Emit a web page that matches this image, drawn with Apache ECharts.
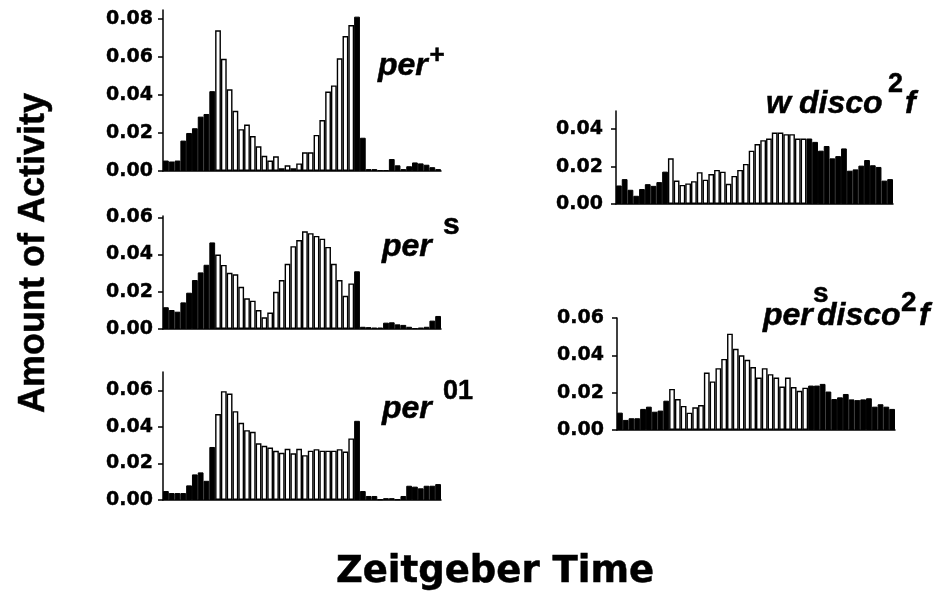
<!DOCTYPE html>
<html lang="en">
<head>
  <meta charset="UTF-8">
  <title>Amount of Activity</title>
  <script src="https://cdn.jsdelivr.net/npm/echarts@6/dist/echarts.min.js"></script>
  <style>
    html, body { margin: 0; padding: 0; background: #fff; }
  </style>
</head>
<body>
  <div id="main" style="width: 948px;height:594px;"></div>
  <script type="text/javascript">
    // 48 half-hour bins; lights on from bin 9 to bin 32 (white bars)
    var lightStart = 9;
    var lightEnd = 33;

    var perPlus = [0.0055, 0.005, 0.0055, 0.016, 0.020, 0.0225, 0.0286, 0.030, 0.042,
      0.074, 0.059, 0.043, 0.0317, 0.022, 0.0244, 0.0184, 0.013, 0.008, 0.0055, 0.0077, 0.0015,
      0.003, 0.0015, 0.004, 0.0098, 0.0098, 0.019, 0.0268, 0.0418, 0.045, 0.0593, 0.071, 0.0768,
      0.0812, 0.0175, 0.001, 0.001, 0.0005, 0.0005, 0.0063, 0.003, 0.001, 0.0025, 0.0045, 0.004,
      0.0033, 0.002, 0.001];

    var perS = [0.0117, 0.0102, 0.0093, 0.0143, 0.0195, 0.0263, 0.0304, 0.0345, 0.0465,
      0.040, 0.0344, 0.0302, 0.0294, 0.0227, 0.0165, 0.0152, 0.0102, 0.0063, 0.0088, 0.020,
      0.0263, 0.035, 0.0445, 0.0478, 0.0525, 0.0515, 0.050, 0.0485, 0.0441, 0.035, 0.0263,
      0.0178, 0.0245,
      0.031, 0.0012, 0.001, 0.0008, 0.0008, 0.0034, 0.0036, 0.0025, 0.0022, 0.0012, 0.0005,
      0.0008, 0.0012, 0.0045, 0.007];

    var per01 = [0.0049, 0.0038, 0.0038, 0.0038, 0.008, 0.014, 0.0151, 0.0105, 0.029,
      0.047, 0.0595, 0.0582, 0.0486, 0.0422, 0.0382, 0.0373, 0.031, 0.0296, 0.0287, 0.0269,
      0.0258, 0.028, 0.0255, 0.028, 0.0245, 0.027, 0.0278, 0.027, 0.027, 0.027, 0.0278, 0.0265,
      0.0337,
      0.0433, 0.0049, 0.0022, 0.0022, 0.0004, 0.001, 0.001, 0.0004, 0.0022, 0.0078, 0.0073,
      0.0064, 0.0078, 0.0078, 0.0087];

    var wDisco = [0.0099, 0.0133, 0.0076, 0.0044, 0.008, 0.0106, 0.0097, 0.0117, 0.0173,
      0.0244, 0.0125, 0.0102, 0.011, 0.0122, 0.017, 0.013, 0.016, 0.0182, 0.0173, 0.0108, 0.015,
      0.0182, 0.0214, 0.0285, 0.032, 0.0341, 0.035, 0.0382, 0.0382, 0.0373, 0.0373, 0.035, 0.035,
      0.035, 0.0332, 0.0285, 0.031, 0.0244, 0.0256, 0.0297, 0.0178, 0.0185, 0.0205, 0.0235,
      0.0207, 0.0198, 0.0125, 0.0133];

    var perSDisco = [0.0093, 0.0054, 0.0063, 0.0063, 0.0113, 0.0125, 0.0098, 0.0104, 0.0157,
      0.022, 0.0166, 0.0129, 0.0093, 0.0122, 0.0134, 0.0308, 0.026, 0.0331, 0.0381, 0.0516,
      0.0435, 0.040, 0.0376, 0.0337, 0.0281, 0.0331, 0.0299, 0.0281, 0.0233, 0.0281, 0.023,
      0.021, 0.0227,
      0.0238, 0.0238, 0.0247, 0.0206, 0.0166, 0.0175, 0.0193, 0.0164, 0.016, 0.0164, 0.017,
      0.0125, 0.0138, 0.0125, 0.0113];

    var ticksA = [0, 0.02, 0.04, 0.06, 0.08];
    var ticksB = [0, 0.02, 0.04, 0.06];
    var ticksC = [0, 0.02, 0.04];

    var bins = [];
    for (var b = 0; b < 48; b++) bins.push(String(b));

    // layout of the five panels
    var panels = [
      { values: perPlus, ticks: ticksA, max: 0.0847, grid: { left: 163, top: 10, width: 278, height: 161 }, margin: 10 },
      { values: perS, ticks: ticksB, max: 0.0607, grid: { left: 163, top: 216, width: 278, height: 113 }, margin: 10 },
      { values: per01, ticks: ticksB, max: 0.07, grid: { left: 163, top: 372, width: 278, height: 128 }, margin: 10 },
      { values: wDisco, ticks: ticksC, max: 0.0497, grid: { left: 616, top: 111, width: 277, height: 93 }, margin: 13 },
      { values: perSDisco, ticks: ticksB, max: 0.06, grid: { left: 617, top: 318, width: 278, height: 112 }, margin: 13 }
    ];

    var myChart = echarts.init(document.getElementById('main'));

    var grids = [], xAxes = [], yAxes = [], series = [];
    panels.forEach(function (p, i) {
      grids.push(p.grid);
      xAxes.push({
        type: 'category',
        gridIndex: i,
        data: bins,
        boundaryGap: true,
        axisLine: { show: true, lineStyle: { color: '#000', width: 1.5 } },
        axisTick: { show: false },
        axisLabel: { show: false },
        splitLine: { show: false }
      });
      yAxes.push({
        type: 'value',
        gridIndex: i,
        min: 0,
        max: p.max,
        axisLine: { show: true, lineStyle: { color: '#000', width: 1.5 } },
        axisTick: { show: true, length: 5, customValues: p.ticks, lineStyle: { color: '#000', width: 1.5 } },
        axisLabel: {
          customValues: p.ticks,
          margin: p.margin,
          color: '#000',
          fontFamily: 'DejaVu Sans',
          fontWeight: 'bold',
          fontSize: 19,
          textBorderColor: '#000',
          textBorderWidth: 0.4,
          formatter: function (v) { return v.toFixed(2); }
        },
        splitLine: { show: false }
      });
      series.push({
        type: 'bar',
        xAxisIndex: i,
        yAxisIndex: i,
        barCategoryGap: '0%',
        data: p.values.map(function (v, k) {
          var light = k >= lightStart && k < lightEnd;
          return {
            value: v,
            itemStyle: light
              ? { color: '#fff', borderColor: '#000', borderWidth: 1.4 }
              : { color: '#000', borderColor: '#000', borderWidth: 1 }
          };
        })
      });
    });

    function txt(text, x, y, size, italic, family, align) {
      return {
        type: 'text',
        x: x,
        y: y,
        style: {
          text: text,
          fontSize: size,
          fontWeight: 'bold',
          fontStyle: italic ? 'italic' : 'normal',
          fontFamily: family || 'Liberation Sans',
          fill: '#000',
          stroke: '#000',
          lineWidth: 0.5,
          align: align || 'left',
          verticalAlign: 'middle'
        }
      };
    }

    var labels = [
      txt('per', 378, 66, 32, true),
      txt('+', 437, 56, 26, false, null, 'center'),
      txt('per', 382, 247, 32, true),
      txt('s', 443, 226, 30, false),
      txt('per', 382, 409, 32, true),
      txt('01', 443, 392, 27, false),
      txt('w', 766, 104, 32, true),
      txt('disco', 799, 104, 32, true),
      txt('2', 888, 85, 27, false),
      txt('f', 905, 104, 32, true),
      txt('per', 763, 316, 32, true),
      txt('s', 813, 294, 28, false),
      txt('disco', 817, 316, 32, true),
      txt('2', 901, 303, 28, false),
      txt('f', 919, 316, 32, true),
      txt('Zeitgeber Time', 495, 572, 37, false, 'DejaVu Sans', 'center'),
      {
        type: 'text',
        x: 34,
        y: 253,
        rotation: Math.PI / 2,
        style: {
          text: 'Amount of Activity',
          fontSize: 36,
          fontWeight: 'bold',
          fontFamily: 'Liberation Sans',
          fill: '#000',
          stroke: '#000',
          lineWidth: 0.5,
          align: 'center',
          verticalAlign: 'middle'
        }
      }
    ];

    var option = {
      animation: false,
      backgroundColor: '#fff',
      grid: grids,
      xAxis: xAxes,
      yAxis: yAxes,
      series: series,
      graphic: labels
    };

    myChart.setOption(option);
  </script>
</body>
</html>
